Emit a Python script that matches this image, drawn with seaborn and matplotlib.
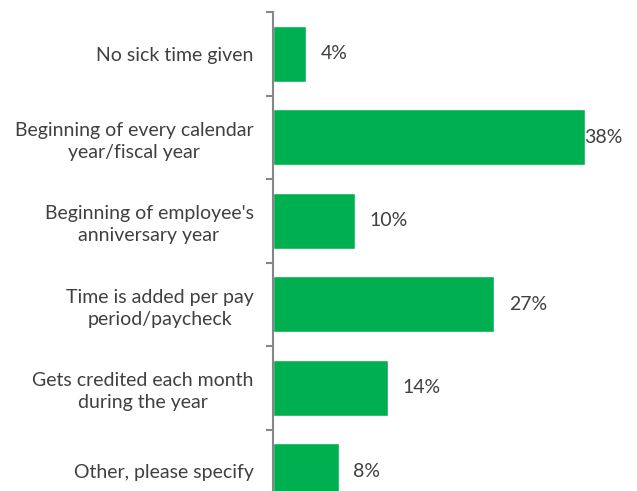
import matplotlib
matplotlib.use("Agg")
import matplotlib.pyplot as plt
import seaborn as sns
import pandas as pd
import numpy as np

categories = [
    "No sick time given",
    "Beginning of every calendar\nyear/fiscal year",
    "Beginning of employee's\nanniversary year",
    "Time is added per pay\nperiod/paycheck",
    "Gets credited each month\nduring the year",
    "Other, please specify",
]
values = [4, 38, 10, 27, 14, 8]
value_labels = ["4%", "38%", "10%", "27%", "14%", "8%"]

sns.set_theme(style="white")
plt.rcParams["font.family"] = ["Lato", "DejaVu Sans"]

df = pd.DataFrame({"category": categories, "value": values})

W, H = 637, 491
fig = plt.figure(figsize=(W / 100, H / 100), dpi=100)
ax_left, ax_right = 273, 637
ax_top, ax_bottom = 12, 513
ax = fig.add_axes([ax_left / W, (H - ax_bottom) / H,
                   (ax_right - ax_left) / W, (ax_bottom - ax_top) / H])

sns.barplot(data=df, y="category", x="value", orient="h", color="#00B050",
            saturation=1, width=0.67, ax=ax)

xmax = 44.4
ax.set_xlim(0, xmax)
ax.set_ylim(len(categories) - 0.5, -0.5)

text_color = "#404040"
fs = 14
for i, (v, lab) in enumerate(zip(values, value_labels)):
    x = v + 1.8
    if x + 4.8 > xmax:
        x = v
    ax.text(x, i, lab, va="center", ha="left", fontsize=fs, color=text_color)

for s in ["top", "right", "bottom"]:
    ax.spines[s].set_visible(False)
ax.spines["left"].set_color("#868686")
ax.spines["left"].set_linewidth(1.5)

ax.set_xticks([])
ax.set_xlabel("")
ax.set_ylabel("")
ax.set_yticks(range(len(categories)))
ax.set_yticklabels(categories, fontsize=fs, color=text_color,
                   multialignment="center", linespacing=1.35)
ax.tick_params(axis="y", which="major", length=0, pad=14)
ax.set_yticks(np.arange(-0.5, len(categories), 1.0), minor=True)
ax.tick_params(axis="y", which="minor", length=5, width=1.5,
               color="#868686", left=True)

fig.savefig("out.png", dpi=100)
